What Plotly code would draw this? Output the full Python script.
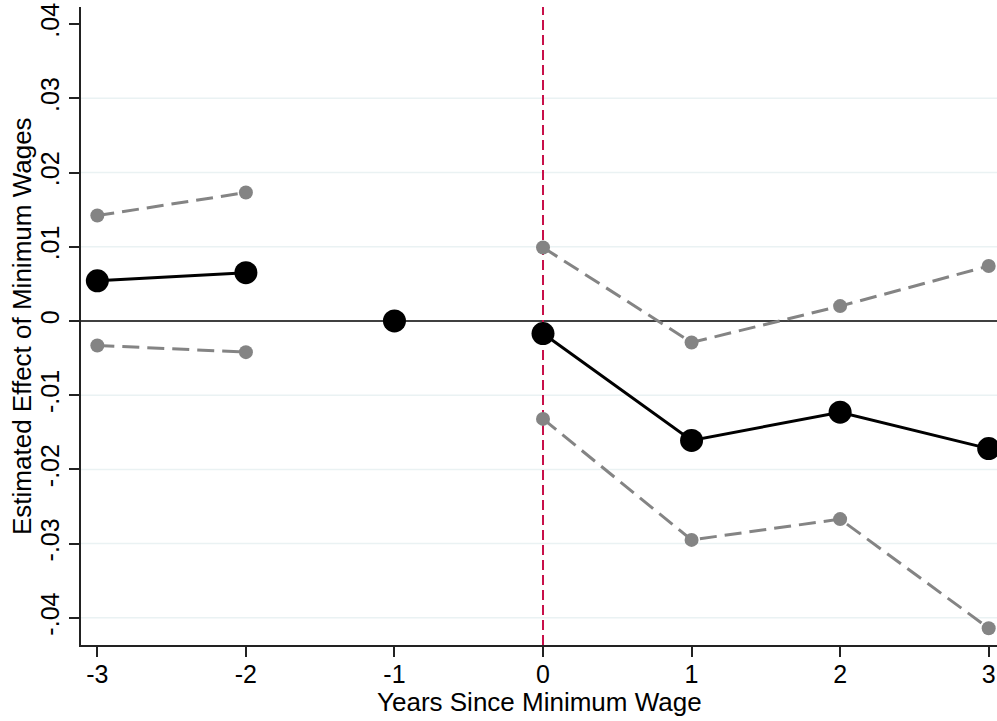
import plotly.graph_objects as go

# Event-study estimates: effect of minimum wages by year relative to the increase
years = [-3, -2, -1, 0, 1, 2, 3]
estimate = [0.0054, 0.0065, 0.0, -0.0017, -0.0161, -0.0123, -0.0172]
ci_upper = [0.0142, 0.0173, None, 0.0099, -0.0029, 0.0020, 0.0074]
ci_lower = [-0.0033, -0.0042, None, -0.0132, -0.0295, -0.0267, -0.0414]

y_tickvals = [-0.04, -0.03, -0.02, -0.01, 0, 0.01, 0.02, 0.03, 0.04]
y_ticktext = ["-.04", "-.03", "-.02", "-.01", "0", ".01", ".02", ".03", ".04"]
y_gridvals = [-0.04, -0.03, -0.02, -0.01, 0.01, 0.02, 0.03]
x_tickvals = [-3, -2, -1, 0, 1, 2, 3]
x_ticktext = ["-3", "-2", "-1", "0", "1", "2", "3"]

FONT = "Liberation Sans, Arial, Helvetica, sans-serif"
GRAY = "#848484"

W, H = 997, 721
M_L, M_R, M_T, M_B = 81, 0, 7, 76
plot_w = W - M_L - M_R
plot_h = H - M_T - M_B

fig = go.Figure()

pre = [i for i, t in enumerate(years) if t < -1]
ref = [i for i, t in enumerate(years) if t == -1]
post = [i for i, t in enumerate(years) if t >= 0]

# Confidence bounds (dashed gray)
for idx in (pre, post):
    for bound in (ci_upper, ci_lower):
        fig.add_trace(go.Scatter(
            x=[years[i] for i in idx], y=[bound[i] for i in idx],
            mode="lines+markers",
            line=dict(color=GRAY, width=3, dash="17px,8px"),
            marker=dict(color=GRAY, size=14),
            showlegend=False, hoverinfo="skip"))

# Point estimates (solid black)
for idx in (pre, ref, post):
    fig.add_trace(go.Scatter(
        x=[years[i] for i in idx], y=[estimate[i] for i in idx],
        mode="lines+markers",
        line=dict(color="black", width=3),
        marker=dict(color="black", size=23),
        showlegend=False))

# Light horizontal gridlines
for g in y_gridvals:
    fig.add_shape(type="line", xref="paper", x0=0, x1=1, yref="y", y0=g, y1=g,
                  line=dict(color="#EAF2F3", width=1.5), layer="below")

# Zero reference line and event-time marker
fig.add_shape(type="line", xref="paper", x0=0, x1=1, yref="y", y0=0, y1=0,
              line=dict(color="black", width=1.5), layer="below")
fig.add_shape(type="line", xref="x", x0=0, x1=0, yref="paper", y0=0, y1=1,
              line=dict(color="#C8104A", width=2, dash="10px,5px"), layer="below")

# Axis titles placed as annotations
fig.add_annotation(text="Years Since Minimum Wage", xref="paper", yref="paper",
                   x=0.5, y=-(702 - (H - M_B)) / plot_h, xanchor="center", yanchor="middle",
                   showarrow=False, font=dict(size=26))
fig.add_annotation(text="Estimated Effect of Minimum Wages", xref="paper", yref="paper",
                   x=-(M_L - 22) / plot_w, y=0.5, xanchor="center", yanchor="middle",
                   textangle=-90, showarrow=False, font=dict(size=26))

fig.update_layout(
    width=W, height=H,
    margin=dict(l=M_L, r=M_R, t=M_T, b=M_B),
    paper_bgcolor="white", plot_bgcolor="white",
    font=dict(family=FONT, color="black", size=25),
    xaxis=dict(
        range=[-3.11, 3.056],
        tickvals=x_tickvals, ticktext=x_ticktext,
        showgrid=False, zeroline=False,
        showline=True, linecolor="#222", linewidth=1.5,
        ticks="outside", ticklen=10, tickwidth=1.5, tickcolor="#222",
        tickfont=dict(size=25),
        ticklabelstandoff=-4,
    ),
    yaxis=dict(
        range=[-0.04366, 0.0423],
        tickvals=y_tickvals, ticktext=y_ticktext,
        tickangle=-90,
        showgrid=False,
        zeroline=False,
        showline=True, linecolor="#222", linewidth=1.5,
        ticks="outside", ticklen=10, tickwidth=1.5, tickcolor="#222",
        tickfont=dict(size=25),
    ),
)

fig.write_html("out.html")
